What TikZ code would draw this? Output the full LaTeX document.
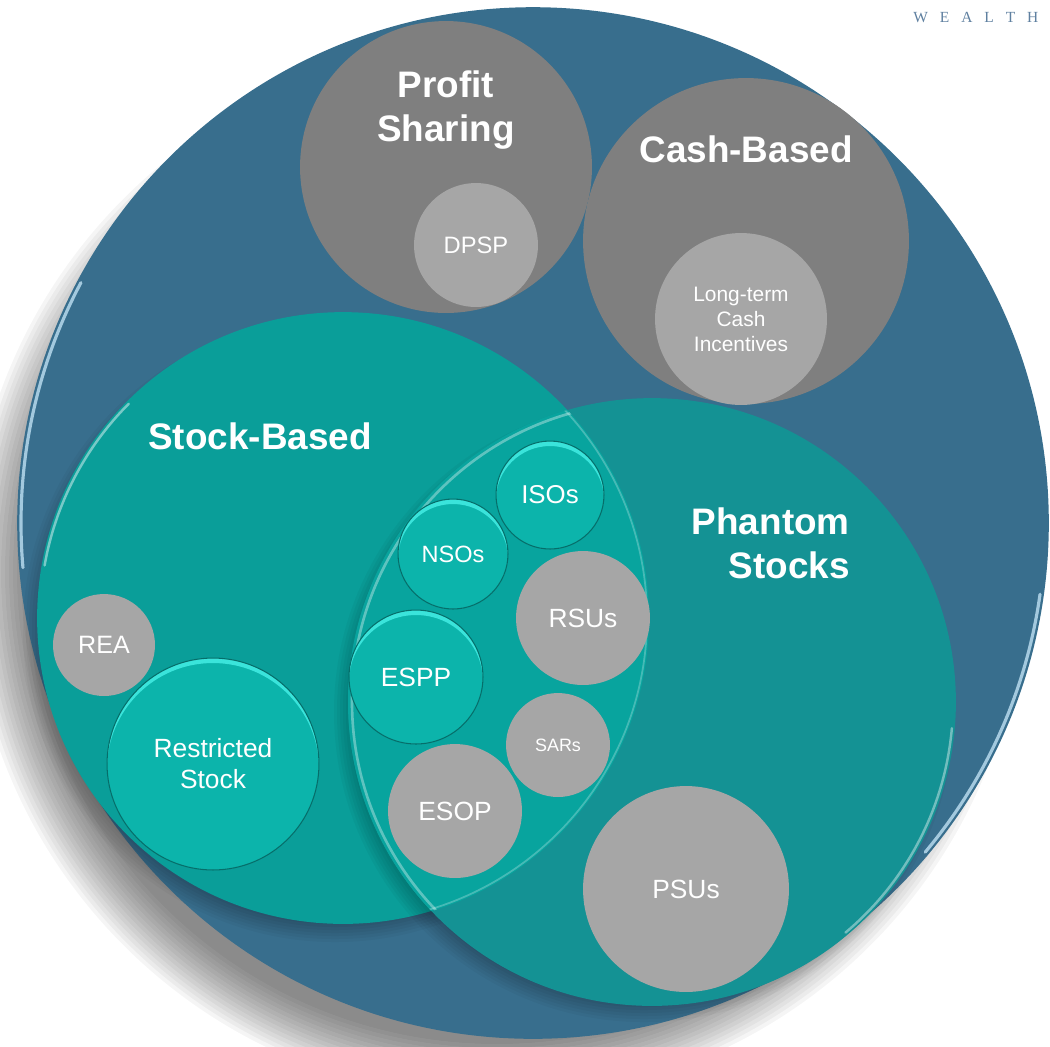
\documentclass[tikz,border=0pt]{standalone}
\usepackage{fontspec}
\setmainfont{Liberation Sans}
\newfontfamily\wealthfont{Liberation Serif}
\definecolor{bgblue}{RGB}{56,110,141}
\definecolor{dgray}{RGB}{127,127,127}
\definecolor{lgray}{RGB}{166,166,166}
\definecolor{sbteal}{RGB}{10,158,153}
\definecolor{phteal}{RGB}{20,146,148}
\definecolor{lensteal}{RGB}{8,164,158}
\definecolor{bubteal}{RGB}{12,180,171}
\definecolor{bubdark}{RGB}{6,110,106}
\definecolor{bubhi}{RGB}{70,240,232}
\definecolor{wealthc}{RGB}{95,128,160}
\definecolor{rimc}{RGB}{200,232,250}
\begin{document}
\begin{tikzpicture}[x=0.02cm,y=-0.02cm,
  disc/.style={circle, inner sep=0pt, minimum size=#1*0.04cm, text=white, align=center},
  graydisc/.style={disc=#1, fill=lgray},
  bigdisc/.style={disc=#1, fill=dgray},
  tealdisc/.style={disc=#1, fill=bubteal, draw=bubdark, line width=0.6pt,
    path picture={\fill[bubhi, opacity=0.8, even odd rule]
      (path picture bounding box.center) circle[radius=#1]
      (path picture bounding box.center) ++(0,5) circle[radius=#1];}},
  head/.style={text=white, font=\fontsize{21}{25}\selectfont\bfseries, align=center, inner sep=0pt},
  lab/.style={font=\fontsize{15}{17.6}\selectfont},
  rim/.style={draw=rimc, line width=1.4pt, opacity=0.75, line cap=round},
]
\useasboundingbox (0,0) rectangle (1050,1046);
% drop shadow of the big circle
\foreach \k in {0,...,14}
  \fill[black, opacity=0.04] (497,572) circle[radius=472+4*\k];
% big circle
\node[disc=516, fill=bgblue] (big) at (533,523) {};
\draw[rim, line width=1.8pt] (big.center) ++(175:512) arc[start angle=175, end angle=208, radius=512];
\draw[rim, line width=1.8pt] (big.center) ++(8:512) arc[start angle=8, end angle=40, radius=512];
% top gray circles
\node[bigdisc=146] (ps) at (446,167) {};
\node[bigdisc=163] (cb) at (746,241) {};
\node[graydisc=62, lab, font=\fontsize{13.5}{16}\selectfont] (dpsp) at (476,245) {DPSP};
\node[graydisc=86, font=\fontsize{11.9}{14.2}\selectfont] (ltci) at (741,319) {Long-term\\Cash\\Incentives};
% Stock-Based circle with shadow
\foreach \k in {0,...,9}
  \fill[black, opacity=0.035] (335,630) circle[radius=285+3*\k];
\node[disc=306, fill=sbteal] (sb) at (343,618) {};
\draw[rim, draw=white, opacity=0.45] (sb.center) ++(190:303) arc[start angle=190, end angle=225, radius=303];
% Phantom circle with shadow
\foreach \k in {0,...,9}
  \fill[black, opacity=0.035] (644,712) circle[radius=283+3*\k];
\node[disc=304, fill=phteal] (ph) at (652,702) {};
\draw[rim, draw=white, opacity=0.4] (ph.center) ++(5:301) arc[start angle=5, end angle=50, radius=301];
% lens
\begin{scope}
  \clip (sb.center) circle[radius=306];
  \fill[lensteal] (ph.center) circle[radius=304];
  \draw[white, opacity=0.35, line width=1.5pt] (ph.center) circle[radius=300];
\end{scope}
\begin{scope}
  \clip (ph.center) circle[radius=304];
  \draw[white, opacity=0.25, line width=1pt] (sb.center) circle[radius=304];
\end{scope}
% bubbles
\node[graydisc=51, lab, font=\fontsize{14.3}{17}\selectfont] (rea) at (104,645) {REA};
\node[tealdisc=106, lab] (rs) at (213,764) {Restricted\\Stock};
\node[tealdisc=54, lab, font=\fontsize{14.7}{17}\selectfont] (isos) at (550,495) {ISOs};
\node[tealdisc=55, lab, font=\fontsize{13.4}{16}\selectfont] (nsos) at (453,554) {NSOs};
\node[graydisc=67, lab] (rsus) at (583,618) {RSUs};
\node[tealdisc=67, lab] (espp) at (416,677) {ESPP};
\node[graydisc=52, font=\fontsize{10.2}{12}\selectfont] (sars) at (558,745) {SARs};
\node[graydisc=67, lab] (esop) at (455,811) {ESOP};
\node[graydisc=103, lab] (psus) at (686,889) {PSUs};
% headings
\node[head] (tps) at (446,110) {Profit\\Sharing};
\node[head] (tcb) at (746,149) {Cash-Based};
\node[head] (tsb) at (260,436) {Stock-Based};
\node[head, anchor=east, align=right] (tph) at (850,543) {Phantom\\Stocks};
\node[anchor=west, inner sep=0pt, text=wealthc, font=\wealthfont\fontsize{8.8}{9}\selectfont] (wealth) at (913,18)
  {W\kern6.8pt E\kern6.8pt A\kern6.8pt L\kern6.8pt T\kern6.8pt H};
\end{tikzpicture}
\end{document}
